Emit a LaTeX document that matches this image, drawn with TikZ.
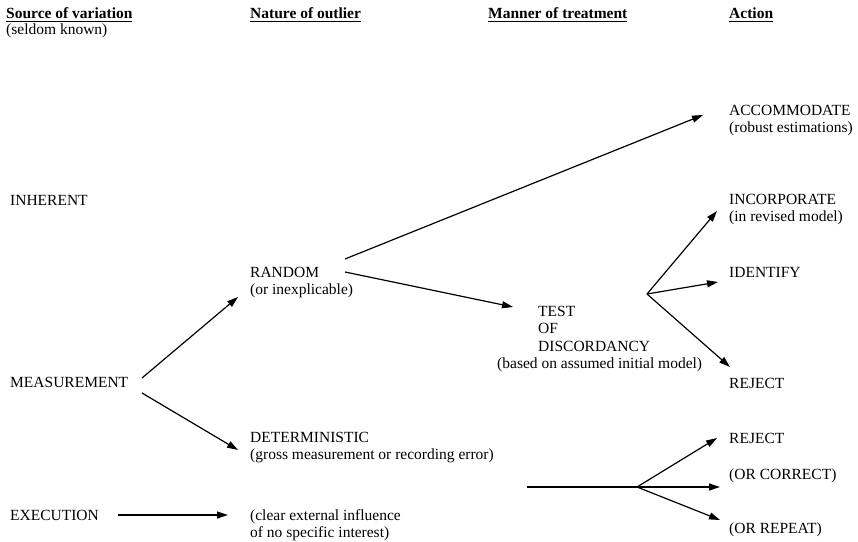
\documentclass[tikz,border=0pt]{standalone}
\usepackage{fontspec}
\setmainfont{Liberation Serif}
\usepackage{tikz}
\usetikzlibrary{arrows.meta,calc}
\newcommand\headline[1]{\setbox0\hbox{#1}\leavevmode\rlap{\rule[-3pt]{\wd0}{1.1pt}}\box0}
\tikzset{
  lbl/.style={anchor=base west, align=left, inner sep=0pt, font=\fontsize{15.5}{17}\selectfont},
  head/.style={lbl, font=\fontsize{15.5}{17}\selectfont\bfseries},
  conn/.style={-{Triangle[length=11pt,width=7pt]}, line width=1.2pt},
  plain/.style={line width=1.2pt}
}

\begin{document}
\begin{tikzpicture}[x=1pt, y=1pt]
  \useasboundingbox (0,0) rectangle (858,541);
  % column heads
  \node[head] (hsrc) at (6,522) {\headline{Source of variation}};
  \node[lbl] (seldom) at (6,506) {(seldom known)};
  \node[head] (hnat) at (250,522) {\headline{Nature of outlier}};
  \node[head] (hman) at (488,522) {\headline{Manner of treatment}};
  \node[head] (hact) at (729,522) {\headline{Action}};
  % sources
  \node[lbl] (inher) at (10,335) {INHERENT};
  \node[lbl] (meas) at (10,154) {MEASUREMENT};
  \node[lbl] (exec) at (10,21) {EXECUTION};
  % outliers (base = last line)
  \node[lbl] (random) at (250,246) {RANDOM\\(or inexplicable)};
  \node[lbl] (determ) at (250,82) {DETERMINISTIC\\(gross measurement or recording error)};
  \node[lbl] (clear) at (250,4) {(clear external influence\\of no specific interest)};
  % treatment
  \node[lbl] (test) at (538,190) {TEST\\OF\\DISCORDANCY};
  \node[lbl] (based) at (497,173) {(based on assumed initial model)};
  % actions
  \node[lbl] (accom) at (729,408) {ACCOMMODATE\\(robust estimations)};
  \node[lbl] (incorp) at (729,319) {INCORPORATE\\(in revised model)};
  \node[lbl] (ident) at (729,263) {IDENTIFY};
  \node[lbl] (rej1) at (729,153) {REJECT};
  \node[lbl] (rej2) at (729,98) {REJECT};
  \node[lbl] (correct) at (729,62) {(OR CORRECT)};
  \node[lbl] (repeat) at (729,8) {(OR REPEAT)};
  \coordinate (fork1) at (647,247);
  \coordinate (tail) at (527,54);
  \coordinate (fork2) at (637,54);
  % arrows
  \draw[conn] ($(meas.base west)+(132,9)$) -- ($(random.base west)+(-12,-2)$);
  \draw[conn] ($(meas.base west)+(132,-6)$) -- ($(determ.base west)+(-12,9)$);
  \draw[conn] ($(exec.base west)+(108,5)$) -- ($(clear.base west)+(-22,22)$);
  \draw[conn] ($(random.base west)+(95,36)$) -- ($(accom.base west)+(-26,18)$);
  \draw[conn] ($(random.base west)+(95,23)$) -- ($(test.base west)+(-25,44)$);
  \draw[conn] (fork1) -- ($(incorp.base west)+(-12,11)$);
  \draw[conn] (fork1) -- ($(ident.base west)+(-11,-4)$);
  \draw[conn] (fork1) -- ($(rej1.base west)+(1,21)$);
  \draw[plain] (tail) -- (fork2);
  \draw[conn] (fork2) -- ($(rej2.base west)+(-12,5)$);
  \draw[conn] (fork2) -- ($(correct.base west)+(-9,-8)$);
  \draw[conn] (fork2) -- ($(repeat.base west)+(-9,13)$);
\end{tikzpicture}
\end{document}
